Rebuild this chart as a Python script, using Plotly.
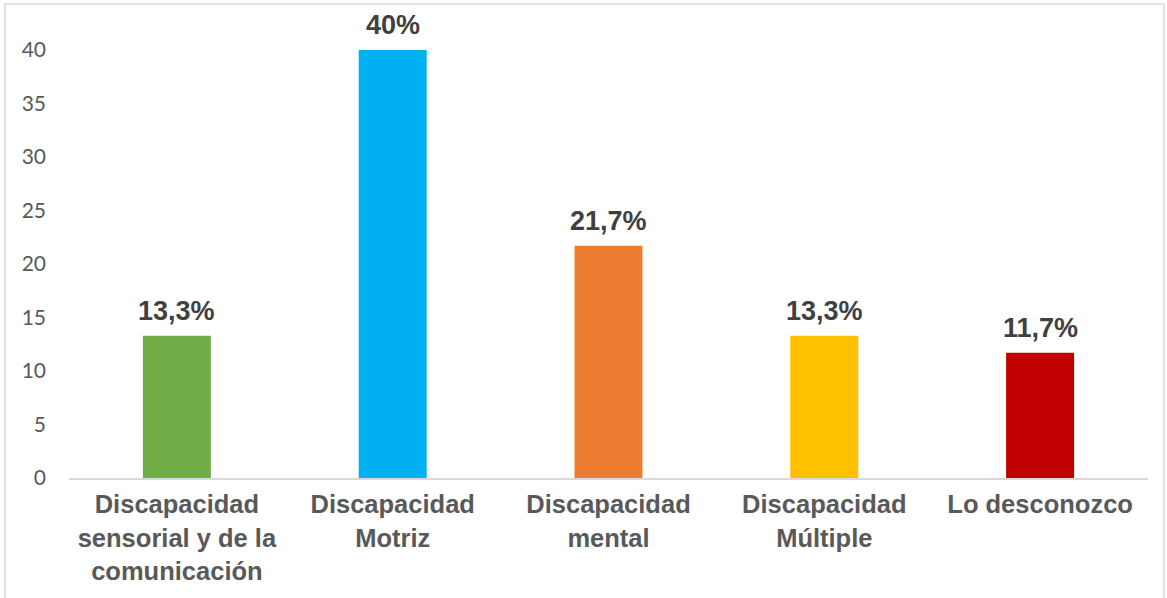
import plotly.graph_objects as go

# Categories, values and bar colours
categories = [
    "Discapacidad<br>sensorial y de la<br>comunicación",
    "Discapacidad<br>Motriz",
    "Discapacidad<br>mental",
    "Discapacidad<br>Múltiple",
    "Lo desconozco",
]
values = [13.3, 40, 21.7, 13.3, 11.7]
colors = ["#70AD47", "#00B0F0", "#ED7D31", "#FFC000", "#C00000"]
y_ticks = [0, 5, 10, 15, 20, 25, 30, 35, 40]

W, H = 1167, 598
M_L, M_R, M_T, M_B = 69, 19, 50, 120


def pct_label(v):
    s = f"{v:g}".replace(".", ",")
    return s + "%"


fig = go.Figure(
    go.Bar(
        x=categories,
        y=values,
        marker=dict(color=colors, line=dict(width=0)),
        width=0.315,
        hoverinfo="skip",
    )
)

for c, v in zip(categories, values):
    fig.add_annotation(
        x=c, y=v, text=pct_label(v), showarrow=False,
        yanchor="bottom", yshift=8,
        font=dict(family="Liberation Sans, Arial", size=27, color="#404040", weight="bold"),
    )

# Light outer frame of the chart (pixel edges converted to paper units)
pw = W - M_L - M_R
ph = H - M_T - M_B
frame_px = dict(left=5, right=1164, top=4, bottom=640)
fig.add_shape(
    type="rect", xref="paper", yref="paper",
    x0=(frame_px["left"] - M_L) / pw,
    x1=(frame_px["right"] - M_L) / pw,
    y0=(H - M_B - frame_px["bottom"]) / ph,
    y1=(H - M_B - frame_px["top"]) / ph,
    line=dict(color="#D9D9D9", width=1.5), fillcolor="rgba(0,0,0,0)", layer="below",
)

fig.update_layout(
    width=W, height=H,
    margin=dict(l=M_L, r=M_R, t=M_T, b=M_B),
    paper_bgcolor="white", plot_bgcolor="white",
    showlegend=False,
    xaxis=dict(
        showgrid=False, showline=True, linecolor="#D9D9D9", linewidth=1.5,
        ticks="", ticklabelstandoff=3,
        tickfont=dict(family="Liberation Sans, Arial", size=25.5, color="#595959", weight="bold"),
        fixedrange=True,
    ),
    yaxis=dict(
        range=[0, 40], tickvals=y_ticks, showgrid=False, zeroline=False,
        showline=False, ticks="", ticklabelstandoff=22,
        tickfont=dict(family="Lato, Open Sans", size=21, color="#595959"),
        fixedrange=True,
    ),
)

fig.write_html("out.html")
